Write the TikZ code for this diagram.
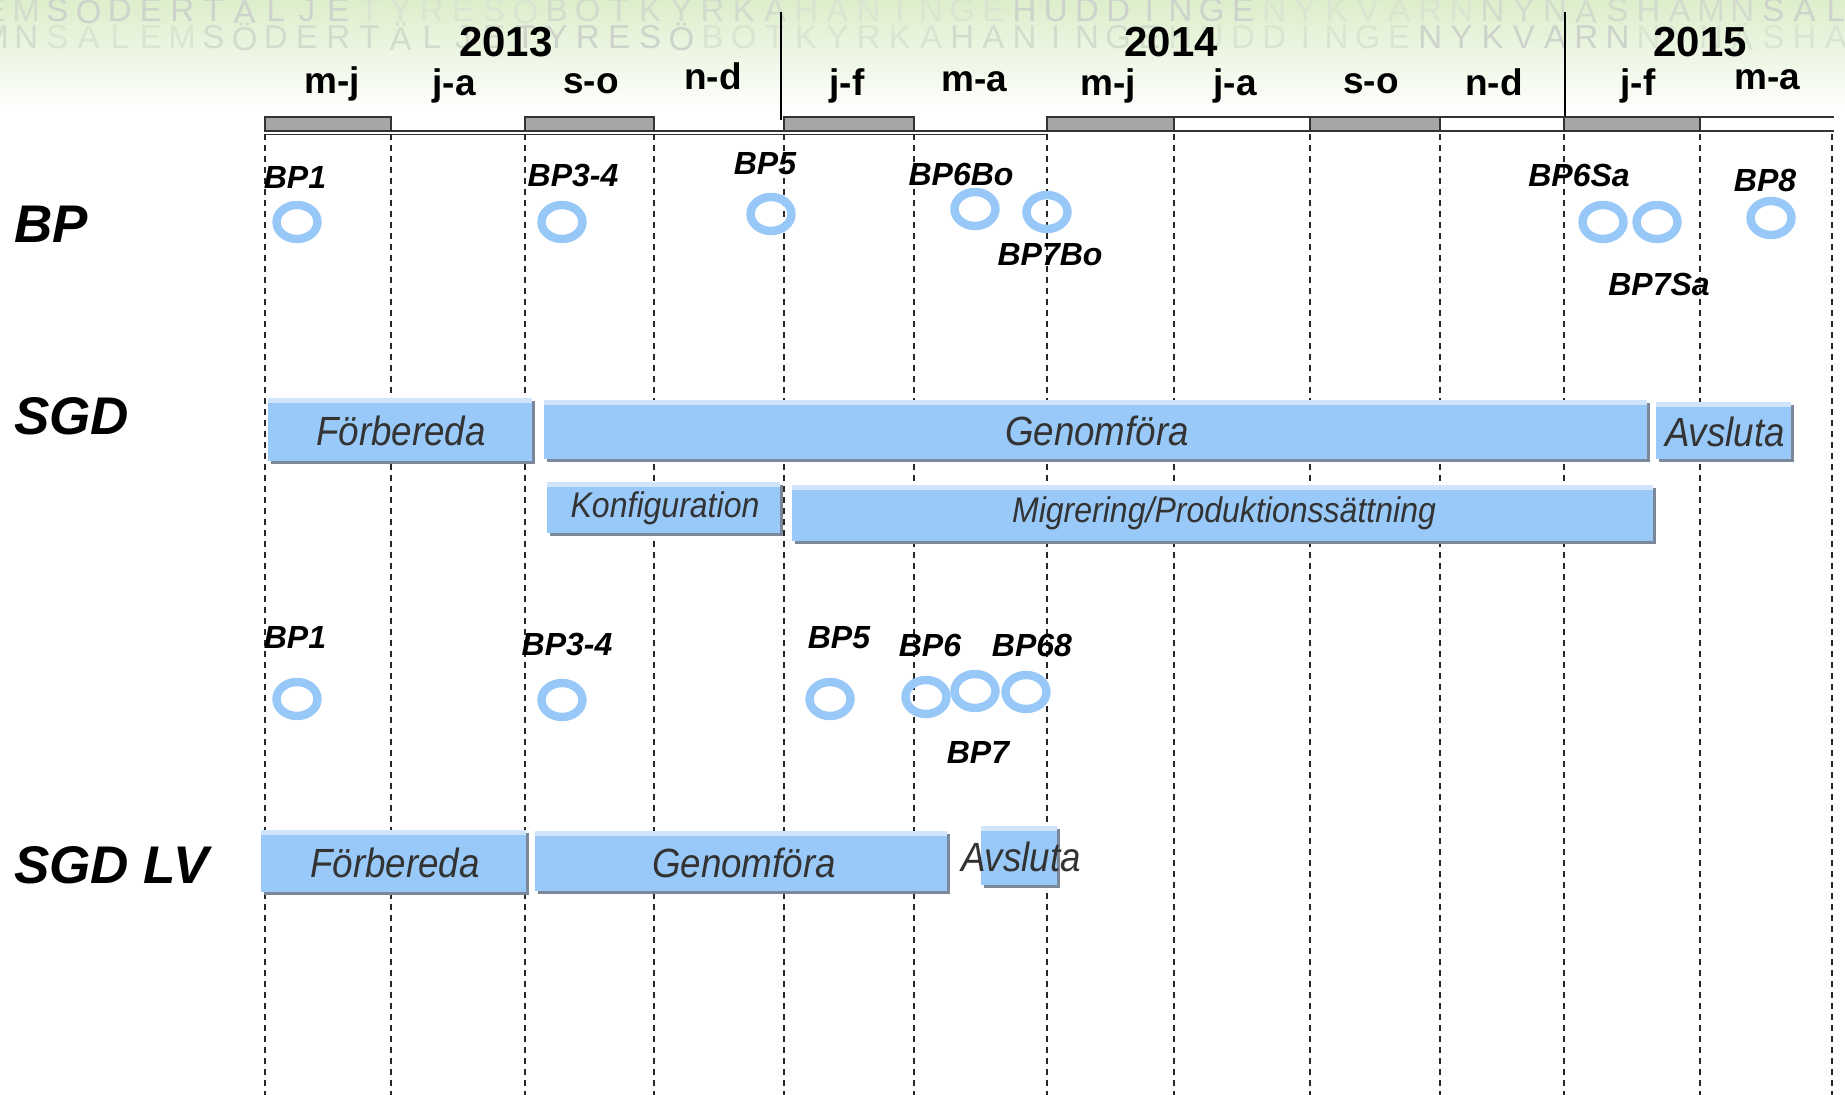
\documentclass[tikz,border=0pt]{standalone}
\usepackage{fontspec}
\setmainfont{Liberation Sans}
\usetikzlibrary{shapes.geometric,shadows}

\definecolor{msblue}{RGB}{151,200,248}
\definecolor{barblue}{RGB}{153,201,249}
\definecolor{barlight}{RGB}{208,229,251}
\definecolor{barshadow}{RGB}{122,136,154}
\definecolor{bartext}{RGB}{51,51,51}
\definecolor{tlgray}{RGB}{166,166,166}
\definecolor{gridc}{RGB}{40,40,40}
\definecolor{hdrtop}{RGB}{220,238,203}
\definecolor{hdrmid}{RGB}{238,246,229}
\definecolor{wmA}{RGB}{205,211,203}
\definecolor{wmB}{RGB}{218,229,209}
\definecolor{wmC}{RGB}{211,219,205}

\newcommand\nar[2][0.9]{\scalebox{#1}[1]{#2}}
\newcommand\wmword[5]{% #1 row id, #2 y, #3 start index, #4 colour, #5 letters
  \foreach \c [count=\i from #3] in {#5}
    \node[wmk,text=#4] (w#1n\i) at ({-5+31.2*\i},#2) {\c};}

\tikzset{
  rowlab/.style={anchor=base west, inner sep=0, font=\fontsize{26.5}{30}\selectfont\bfseries\itshape},
  yearlab/.style={anchor=base, inner sep=0, font=\fontsize{21}{25}\selectfont\bfseries},
  monlab/.style={anchor=base, inner sep=0, font=\fontsize{18.5}{22}\selectfont\bfseries},
  bplab/.style={inner sep=0, font=\fontsize{16}{19}\selectfont\bfseries\itshape},
  mstone/.style={draw=msblue, line width=4.2pt, ellipse, minimum width=20.5pt, minimum height=17pt, inner sep=0},
  barbox/.style={fill=barblue, inner sep=0,
    drop shadow={shadow xshift=1.5pt, shadow yshift=-1.6pt, fill=barshadow, opacity=1},
    path picture={\fill[barlight] (path picture bounding box.north west) rectangle ([yshift=-2.5pt]path picture bounding box.north east);}},
  bartxt/.style={inner sep=0, text=bartext, font=\fontsize{20.4}{24}\selectfont\itshape},
  smalltxt/.style={inner sep=0, text=bartext, font=\fontsize{17.8}{21}\selectfont\itshape},
  gridline/.style={draw=gridc, line width=0.6pt, dash pattern=on 3pt off 2.5pt},
  tlbar/.style={fill=tlgray, draw=black!80, line width=0.6pt},
  tlline/.style={draw=black!80, line width=0.6pt},
  yearsep/.style={draw=black, line width=1.1pt},
  wmk/.style={inner sep=0, font=\fontsize{16.5}{19}\selectfont},
}

\begin{document}
\begin{tikzpicture}[x=0.5pt,y=-0.5pt]
\useasboundingbox (0,0) rectangle (1845,1095);
\fill[white] (0,0) rectangle (1845,1095);
\shade[top color=hdrtop, middle color=hdrmid, bottom color=white] (0,0) rectangle (1845,115);

% watermark rows
\begin{scope}
\clip (0,0) rectangle (1845,115);
\wmword{a}{10}{0}{wmC}{E,M}
\wmword{a}{10}{2}{wmA}{S,Ö,D,E,R,T,Ä,L,J,E}
\wmword{a}{10}{12}{wmB}{T,Y,R,E,S,Ö}
\wmword{a}{10}{18}{wmC}{B,O,T,K,Y,R,K,A}
\wmword{a}{10}{26}{wmB}{H,A,N,I,N,G,E}
\wmword{a}{10}{33}{wmA}{H,U,D,D,I,N,G,E}
\wmword{a}{10}{41}{wmB}{N,Y,K,V,A,R,N}
\wmword{a}{10}{48}{wmC}{N,Y,N,Ä,S,H,A,M,N}
\wmword{a}{10}{57}{wmA}{S,A,L}
\wmword{b}{37}{0}{wmC}{M,N}
\wmword{b}{37}{2}{wmB}{S,A,L,E,M}
\wmword{b}{37}{7}{wmC}{S,Ö,D,E,R,T,Ä,L,J,E}
\wmword{b}{37}{17}{wmA}{T,Y,R,E,S,Ö}
\wmword{b}{37}{23}{wmB}{B,O,T,K,Y,R,K,A}
\wmword{b}{37}{31}{wmC}{H,A,N,I,N,G,E}
\wmword{b}{37}{38}{wmB}{H,U,D,D,I,N,G,E}
\wmword{b}{37}{46}{wmA}{N,Y,K,V,A,R,N}
\wmword{b}{37}{53}{wmB}{N,Y,N,Ä,S,H,A}
\end{scope}

% years
\node[yearlab] (y13) at (506,57) {2013};
\node[yearlab] (y14) at (1171,57) {2014};
\node[yearlab] (y15) at (1700,57) {2015};

% months
\node[monlab] (m1) at (332,94) {m-j};
\node[monlab] (m2) at (454,96) {j-a};
\node[monlab] (m3) at (591,94) {s-o};
\node[monlab] (m4) at (713,90) {n-d};
\node[monlab] (m5) at (847,96) {j-f};
\node[monlab] (m6) at (974,92) {m-a};
\node[monlab] (m7) at (1108,96) {m-j};
\node[monlab] (m8) at (1235,96) {j-a};
\node[monlab] (m9) at (1371,94) {s-o};
\node[monlab] (m10) at (1494,96) {n-d};
\node[monlab] (m11) at (1638,96) {j-f};
\node[monlab] (m12) at (1767,90) {m-a};

% year separators
\draw[yearsep] (781,12) -- (781,120);
\draw[yearsep] (1565,12) -- (1565,124);

% timeline band
\draw[tlline] (265,131) -- (1834,131);
\draw[tlline] (265,134.5) -- (1047,134.5);
\draw[tlline] (1047,117) -- (1834,117);
\foreach \a/\b in {265/391,525/654,784/914,1047/1174,1310/1440,1564/1700}
  \draw[tlbar] (\a,117) rectangle (\b,131);

% grid
\foreach \x in {265,391,525,654,784,914,1047,1174,1310,1440,1564,1700,1832}
  \draw[gridline] (\x,134) -- (\x,1095);

% row labels
\node[rowlab] (lbp) at (14,243) {BP};
\node[rowlab] (lsgd) at (14,435) {SGD};
\node[rowlab] (llv) at (14,883) {SGD LV};

% BP row milestones
\node[mstone] (c1) at (297,222) {};
\node[mstone] (c2) at (562,222) {};
\node[mstone] (c3) at (771,214) {};
\node[mstone] (c4) at (975,209) {};
\node[mstone] (c5) at (1047,212) {};
\node[mstone] (c6) at (1603,222) {};
\node[mstone] (c7) at (1657,222) {};
\node[mstone] (c8) at (1771,218) {};
\node[bplab] (t1) at (295,177) {BP1};
\node[bplab] (t2) at (573,175) {BP3-4};
\node[bplab] (t3) at (765,164) {BP5};
\node[bplab] (t4) at (961,174) {BP6Bo};
\node[bplab] (t5) at (1050,255) {BP7Bo};
\node[bplab] (t6) at (1579,175) {BP6Sa};
\node[bplab] (t7) at (1659,284) {BP7Sa};
\node[bplab] (t8) at (1765,180) {BP8};

% SGD bars
\node[barbox, minimum width=132pt, minimum height=31.5pt] (s1) at (400,429.5) {};
\node[bartxt] (s1t) at (401,431) {\nar{Förbereda}};
\node[barbox, minimum width=551.5pt, minimum height=29.5pt] (s2) at (1095.5,429.5) {};
\node[bartxt] (s2t) at (1097,431) {\nar{Genomföra}};
\node[barbox, minimum width=67.5pt, minimum height=28.5pt] (s3) at (1723.5,430.5) {};
\node[bartxt] (s3t) at (1725,432) {\nar{Avsluta}};
\node[barbox, minimum width=116.5pt, minimum height=25.5pt] (s4) at (663.5,507.5) {};
\node[smalltxt] (s4t) at (665,508) {\nar{Konfiguration}};
\node[barbox, minimum width=430.5pt, minimum height=28pt] (s5) at (1222.5,513) {};
\node[smalltxt] (s5t) at (1224,513) {\nar{Migrering/Produktionssättning}};

% SGD LV milestones
\node[mstone] (d1) at (297,699) {};
\node[mstone] (d2) at (562,700) {};
\node[mstone] (d3) at (830,699) {};
\node[mstone] (d4) at (926,697) {};
\node[mstone] (d5) at (975,691) {};
\node[mstone] (d6) at (1026,692) {};
\node[bplab] (u1) at (295,637) {BP1};
\node[bplab] (u2) at (567,644) {BP3-4};
\node[bplab] (u3) at (839,638) {BP5};
\node[bplab] (u4) at (930,645) {BP6};
\node[bplab] (u5) at (1032,645) {BP68};
\node[bplab] (u6) at (978,752) {BP7};

% SGD LV bars
\node[barbox, minimum width=132.5pt, minimum height=31pt] (v1) at (393.5,861) {};
\node[bartxt] (v1t) at (395,863) {\nar{Förbereda}};
\node[barbox, minimum width=206pt, minimum height=30pt] (v2) at (741,861) {};
\node[bartxt] (v2t) at (744,863) {\nar{Genomföra}};
\node[barbox, minimum width=38pt, minimum height=29.5pt] (v3) at (1019,855.5) {};
\node[bartxt] (v3t) at (1021,857) {\nar{Avsluta}};
\end{tikzpicture}
\end{document}
